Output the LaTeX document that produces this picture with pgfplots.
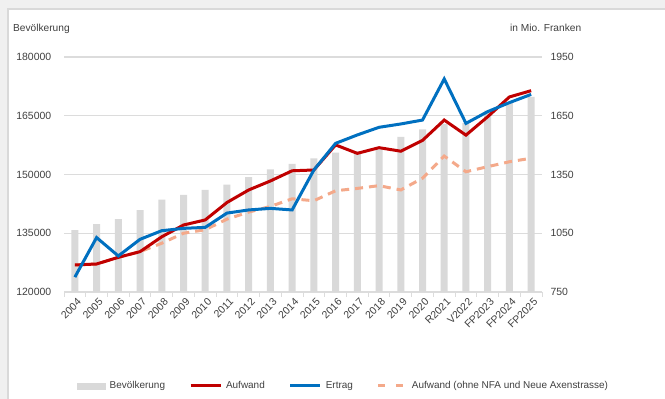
\documentclass[border=0pt]{standalone}
\usepackage{fontspec}
\setmainfont{Liberation Sans}
\usepackage{pgfplots}
\pgfplotsset{compat=1.18}
\definecolor{barcol}{HTML}{D9D9D9}
\definecolor{redc}{HTML}{C00000}
\definecolor{bluec}{HTML}{0070C0}
\definecolor{salmon}{HTML}{F4A98A}
\definecolor{txt}{HTML}{404040}
\definecolor{gridc}{HTML}{DCDCDC}
\definecolor{framec}{HTML}{D9D9D9}
\definecolor{outbg}{HTML}{F0F0F0}
\pgfplotsset{
  base/.style={
    scale only axis, width=478bp, height=235bp,
    at={(64bp,107bp)}, anchor=south west,
    xmin=-0.5, xmax=21.5,
    font=\fontsize{10.5}{12}\selectfont,
    tick label style={text=txt},
    scaled y ticks=false,
    yticklabel style={/pgf/number format/fixed,/pgf/number format/precision=0,/pgf/number format/set thousands separator={},/pgf/number format/assume math mode=true},
  }
}
\begin{document}
\begin{tikzpicture}
\useasboundingbox (0bp,0bp) rectangle (665bp,399bp);
\clip (0bp,0bp) rectangle (665bp,399bp);
\fill[outbg] (0bp,0bp) rectangle (665bp,399bp);
\fill[white,draw=framec,line width=2bp] (8bp,-10bp) rectangle (680bp,390bp);
\node[anchor=base west,text=txt,font=\fontsize{10.2}{12}\selectfont,inner sep=0] at (13bp,367bp) {Bevölkerung};
\node[anchor=base west,text=txt,font=\fontsize{10.2}{12}\selectfont,inner sep=0] at (510bp,367bp) {in Mio. Franken};
\begin{axis}[base,
  ymin=120000, ymax=180000,
  ytick={120000,135000,150000,165000,180000},
  ymajorgrids, grid style={gridc,line width=1.2bp},
  axis x line*=bottom, axis y line*=left,
  y axis line style={draw=none},
  x axis line style={gridc,line width=1.2bp},
  ytick style={draw=none},
  xtick={0,...,21},
  xticklabels={2004,2005,2006,2007,2008,2009,2010,2011,2012,2013,2014,2015,2016,2017,2018,2019,2020,R2021,V2022,FP2023,FP2024,FP2025},
  xticklabel style={rotate=45,anchor=east,inner sep=1bp,yshift=-6bp,xshift=1.5bp},
  major x tick style={draw=none},
  minor xtick={-0.5,0.5,...,21.5},
  minor x tick style={gridc,line width=1bp},
  minor tick length=5bp, tick align=outside,
  yticklabel style={anchor=east,xshift=-5bp},
  ybar, bar width=7bp,
]
\addplot[fill=barcol,draw=none] coordinates {
(0,135800) (1,137300) (2,138600) (3,140900) (4,143600) (5,144800) (6,146100) (7,147400) (8,149300) (9,151300) (10,152700) (11,154100) (12,155600) (13,155900) (14,156400) (15,159600) (16,161500) (17,162900) (18,163100) (19,166300) (20,168300) (21,169800)};
\end{axis}
\begin{axis}[base,
  ymin=750, ymax=1950,
  ytick={750,1050,1350,1650,1950},
  axis x line=none, axis y line*=right,
  y axis line style={draw=none},
  ytick style={draw=none},
  yticklabel style={anchor=west,xshift=5bp},
  legend style={at={(0.585,-0.40)},anchor=center,draw=none,fill=none,
    legend columns=4,font=\fontsize{10}{12}\selectfont,text=txt,
    /tikz/every even column/.append style={column sep=22bp},
    /tikz/every odd column/.append style={column sep=2bp}},
  legend cell align=left,
]
\addlegendimage{legend image code/.code={\fill[barcol] (0bp,-3bp) rectangle (28bp,3bp);}}
\addlegendentry{Bevölkerung}
\addlegendimage{legend image code/.code={\draw[redc,line width=3bp] (0bp,0bp) -- (30bp,0bp);}}
\addlegendentry{Aufwand}
\addlegendimage{legend image code/.code={\draw[bluec,line width=3bp] (0bp,0bp) -- (30bp,0bp);}}
\addlegendentry{Ertrag}
\addlegendimage{legend image code/.code={\draw[salmon,line width=3bp,dash pattern=on 7bp off 11bp] (2bp,0bp) -- (30bp,0bp);}}
\addlegendentry{Aufwand (ohne NFA und Neue Axenstrasse)}
\addplot[forget plot,salmon,line width=3bp,dash pattern=on 8bp off 6bp] coordinates {
(0,888) (1,893) (2,927) (3,956) (4,999) (5,1050) (6,1068) (7,1122) (8,1158) (9,1187) (10,1226) (11,1216) (12,1267) (13,1279) (14,1293) (15,1271) (16,1331) (17,1444) (18,1364) (19,1390) (20,1415) (21,1433)};
\addplot[forget plot,redc,line width=3bp] coordinates {
(0,888) (1,893) (2,927) (3,956) (4,1032) (5,1092) (6,1118) (7,1207) (8,1271) (9,1317) (10,1369) (11,1373) (12,1501) (13,1458) (14,1487) (15,1469) (16,1524) (17,1628) (18,1551) (19,1645) (20,1746) (21,1778)};
\addplot[forget plot,bluec,line width=3bp] coordinates {
(0,826) (1,1028) (2,934) (3,1019) (4,1063) (5,1075) (6,1080) (7,1153) (8,1169) (9,1177) (10,1169) (11,1373) (12,1509) (13,1552) (14,1591) (15,1608) (16,1628) (17,1838) (18,1611) (19,1671) (20,1717) (21,1759)};
\end{axis}
\end{tikzpicture}
\end{document}
